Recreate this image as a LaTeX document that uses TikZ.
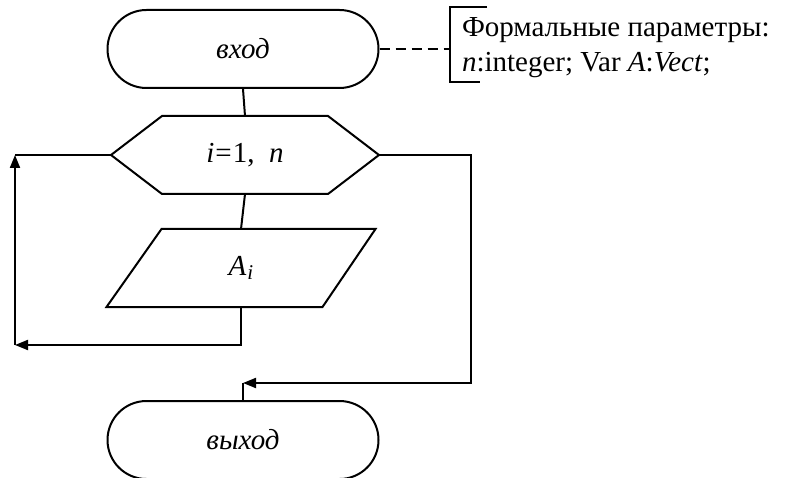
\documentclass[tikz,border=0pt]{standalone}
\usepackage{fontspec}
\setmainfont{Liberation Serif}
\usetikzlibrary{arrows.meta}
\begin{document}
\begin{tikzpicture}[x=1pt,y=-1pt,
  line width=2pt,
  font=\fontsize{29}{35}\selectfont,
  terminal/.style={draw, rectangle, rounded corners=39pt, minimum width=271pt, minimum height=78pt, inner sep=0pt, font=\fontsize{29}{35}\selectfont\itshape},
  frame/.style={rectangle, minimum width=266pt, minimum height=76pt, inner sep=0pt},
  flow/.style={-{Triangle[length=13pt,width=10pt]}},
  note/.style={dashed, dash pattern=on 10pt off 6pt}]
\useasboundingbox (0,0) rectangle (786,478);

% entry and exit terminals
\node[terminal] (in) at (243,49) {вход};
\node[terminal] (out) at (243,440) {выход};

% loop header (hexagon)
\node[frame] (loop) at (245,155) {\textit{i}\kern1pt=\kern1pt1,\enspace\textit{n}};
\draw (loop.west) -- ([xshift=51pt]loop.north west) -- ([xshift=-51pt]loop.north east)
  -- (loop.east) -- ([xshift=-51pt]loop.south east) -- ([xshift=51pt]loop.south west) -- cycle;

% output block (parallelogram)
\node[frame, minimum width=267pt] (io) at (241,268)
  {\textit{A}\kern1pt\raisebox{-0.3ex}{\fontsize{21}{21}\selectfont\textit{i}}};
\draw ([xshift=55pt]io.north west) -- (io.north east) -- ([xshift=-53pt]io.south east)
  -- (io.south west) -- cycle;

% connectors
\coordinate (lb) at (15,345);
\coordinate (lt) at (15,155);
\coordinate (rt) at (471,155);
\coordinate (rb) at (471,383);
\coordinate (xb) at (243,383);

\draw (in.south) -- (loop.north);
\draw (loop.south) -- (io.north);
\draw[flow] (io.south) |- (lb);
\draw[flow] (lb) -- (lt);
\draw (lt) -- (loop.west);
\draw[flow] (loop.east) -- (rt) -- (rb) -- (xb);
\draw (xb) -- (out.north);

% comment with formal parameters
\node[anchor=base west, inner sep=0pt] (c1) at (461,37) {Формальные параметры:};
\node[anchor=base west, inner sep=0pt] (c2) at (461,72) {\textit{n}:integer; Var \textit{A}:\textit{Vect};};
\coordinate (bt) at (450,7);
\coordinate (bb) at (450,82);
\draw ([xshift=37pt]bt) -- (bt) -- (bb) -- ([xshift=30pt]bb);
\draw[note] (in.east) -- (in.east -| bt);
\end{tikzpicture}
\end{document}
